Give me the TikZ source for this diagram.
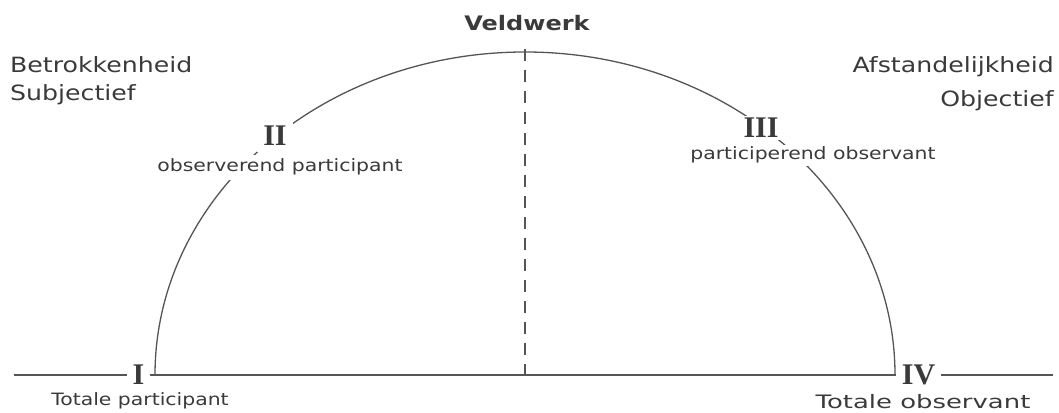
\documentclass[tikz,border=0pt]{standalone}
\usepackage{fontspec}
\newfontfamily\labfont[FakeStretch=1.2]{DejaVu Sans}
\newfontfamily\wlabfont[FakeStretch=1.4]{DejaVu Sans}
\newfontfamily\numfont{Liberation Serif}
\definecolor{ink}{HTML}{3A3A3A}
\definecolor{linegray}{HTML}{555555}
\begin{document}
\begin{tikzpicture}[x=1pt,y=1pt,
  side/.style={font=\labfont\fontsize{21}{25}\selectfont, text=ink, inner sep=0pt},
  heading/.style={font=\labfont\bfseries\fontsize{20}{24}\selectfont, text=ink, inner sep=0pt},
  roman/.style={font=\numfont\bfseries\fontsize{30}{32}\selectfont, text=ink, fill=white},
  rolelabel/.style={font=\labfont\fontsize{17}{20}\selectfont, text=ink, fill=white},
  endlabel/.style={font=\labfont\fontsize{17}{20}\selectfont, text=ink, inner sep=0pt},
  wideendlabel/.style={font=\wlabfont\fontsize{18.5}{22}\selectfont, text=ink, inner sep=0pt},
  curve/.style={draw=linegray, line width=1.3pt},
  axisline/.style={draw=linegray, line width=1.5pt},
  divider/.style={draw=linegray, line width=2pt, dash pattern=on 12pt off 9pt}
]
\useasboundingbox (0,0) rectangle (1059,412);

\coordinate (top) at (525,363);
\coordinate (base) at (525,37);
\coordinate (lend) at (14,37);
\coordinate (rend) at (1053,37);
\coordinate (arcstart) at (155,37);

% half ellipse and divider
\draw[curve] (arcstart) arc[start angle=180, end angle=0, x radius=370, y radius=323];
\draw[divider] (top) -- (base);

% side labels
\node[side, anchor=base west] (betr) at (10,339) {Betrokkenheid};
\node[side, anchor=base west] (subj) at (10,311) {Subjectief};
\node[side, anchor=base east] (afst) at (1054,339) {Afstandelijkheid};
\node[side, anchor=base east] (obj) at (1054,305) {Objectief};
\node[heading] (veld) at (527,389) {Veldwerk};

% roles on the arc
\node[roman, inner sep=6pt] (II) at (275,276) {II};
\node[rolelabel, anchor=base, inner sep=4pt] (obspart) at (280,240) {observerend participant};
\node[roman, inner sep=2pt] (III) at (761,284) {III};
\node[rolelabel, anchor=base, inner sep=2pt] (partobs) at (813,252) {participerend observant};

% roles on the axis
\node[roman, inner xsep=5pt, inner ysep=2pt] (I) at (138.5,37) {I};
\node[roman, inner xsep=6pt, inner ysep=2pt] (IV) at (918.5,37) {IV};
\node[endlabel, anchor=base] (totpart) at (140,7) {Totale participant};
\node[wideendlabel, anchor=base] (totobs) at (923,4) {Totale observant};

% axis
\draw[axisline] (lend) -- (I);
\draw[axisline] (I) -- (IV);
\draw[axisline] (IV) -- (rend);
\end{tikzpicture}
\end{document}
